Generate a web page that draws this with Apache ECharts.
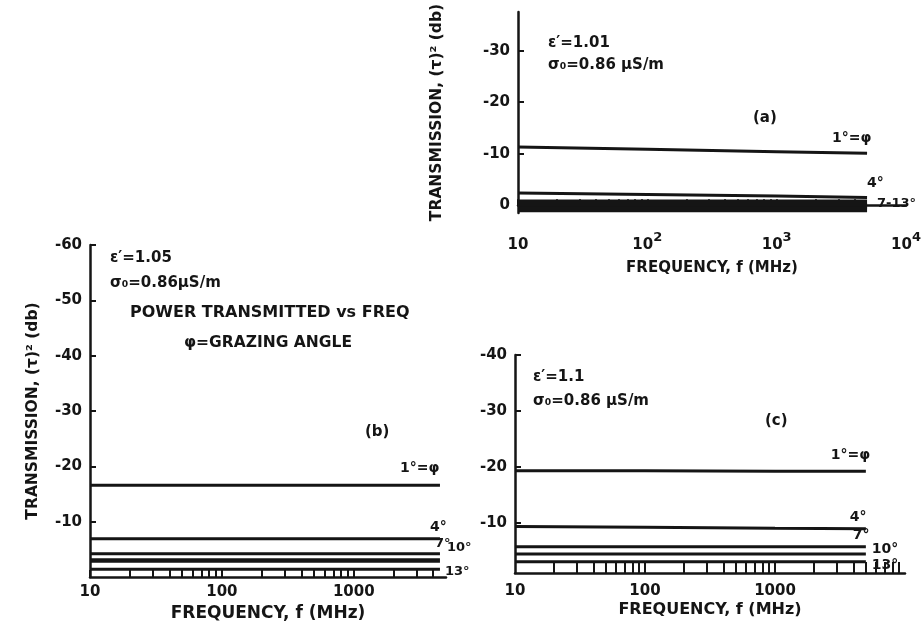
<!DOCTYPE html>
<html>
<head>
<meta charset="utf-8">
<script src="https://cdn.jsdelivr.net/npm/echarts@6/dist/echarts.min.js"></script>
<style>
  html, body { margin: 0; padding: 0; background: #ffffff; }
  #chart { width: 921px; height: 628px; }
</style>
</head>
<body>
<div id="chart"></div>
<script>
// ---- Data: transmission loss (dB) vs frequency (MHz) for several grazing angles ----

// Panel (a): eps' = 1.01
const freqA = [10, 100, 1000, 5000];
const transA1 = [-11.3, -10.85, -10.4, -10.1];
const transA4 = [-2.4, -2.1, -1.8, -1.5];
const transA7 = [-0.6, -0.6, -0.6, -0.6];
const transA10 = [0.1, 0.1, 0.1, 0.1];
const transA13 = [0.8, 0.8, 0.8, 0.8];

// Panel (b): eps' = 1.05
const freqB = [10, 100, 1000, 4500];
const transB1 = [-16.6, -16.6, -16.6, -16.6];
const transB4 = [-6.9, -6.9, -6.9, -6.9];
const transB7 = [-4.2, -4.2, -4.2, -4.2];
const transB10 = [-3.0, -3.0, -3.0, -3.0];
const transB13 = [-1.4, -1.4, -1.4, -1.4];

// Panel (c): eps' = 1.1
const freqC = [10, 100, 1000, 5000];
const transC1 = [-19.3, -19.3, -19.2, -19.2];
const transC4 = [-9.3, -9.2, -9.0, -8.9];
const transC7 = [-5.7, -5.7, -5.7, -5.7];
const transC10 = [-4.4, -4.4, -4.4, -4.4];
const transC13 = [-3.0, -3.0, -3.0, -3.0];

// Tick values
const yTicksA = [-30, -20, -10, 0];
const yTicksB = [-60, -50, -40, -30, -20, -10];
const yTicksC = [-40, -30, -20, -10];
const xLabelsA = [10, 100, 1000, 10000];
const xLabelsBC = [10, 100, 1000];
const xMinorB = [10, 20, 30, 40, 50, 60, 70, 80, 90, 100, 200, 300, 400, 500, 600, 700, 800, 900, 1000, 2000, 3000, 4000];
const xMinorC = [20, 30, 40, 50, 60, 70, 80, 90, 100, 200, 300, 400, 500, 600, 700, 800, 900, 1000, 2000, 3000, 4000, 5000, 6000, 7000, 8000, 9000];

const INK = '#151515';
const FONT = '"DejaVu Sans", "Liberation Sans", sans-serif';

const chart = echarts.init(document.getElementById('chart'), null, { renderer: 'canvas' });

const axisText = { color: INK, fontFamily: FONT, fontWeight: 'bold', fontSize: 15 };

function yAxisFor(gridIndex, min, max, ticks, nameGap) {
  return {
    type: 'value', gridIndex, inverse: true, min, max,
    axisLine: { show: true, lineStyle: { color: INK, width: 2.5 } },
    axisTick: { show: true, inside: true, length: 6, customValues: ticks, lineStyle: { color: INK, width: 2 } },
    axisLabel: Object.assign({ customValues: ticks, margin: 8 }, axisText),
    splitLine: { show: false },
    name: nameGap ? 'TRANSMISSION, (τ)² (db)' : '',
    nameLocation: 'middle', nameRotate: 90, nameGap: nameGap || 0,
    nameTextStyle: { color: INK, fontFamily: FONT, fontWeight: 'bold', fontSize: 15.5 }
  };
}

function xAxisFor(gridIndex, max, labels, minor, tickLen, margin, nameGap, nameSize, fmt) {
  return {
    type: 'log', logBase: 10, gridIndex, min: 10, max,
    axisLine: { show: true, lineStyle: { color: INK, width: 2.5 } },
    axisTick: { show: true, inside: true, length: tickLen, customValues: minor, lineStyle: { color: INK, width: 2 } },
    axisLabel: Object.assign({
      customValues: labels, margin, formatter: fmt,
      rich: {
        b: { fontFamily: FONT, fontWeight: 'bold', fontSize: 15, color: INK, lineHeight: 22, verticalAlign: 'bottom' },
        s: { fontFamily: FONT, fontWeight: 'bold', fontSize: 13, color: INK, lineHeight: 12, verticalAlign: 'top' }
      }
    }, axisText),
    splitLine: { show: false },
    name: 'FREQUENCY, f (MHz)', nameLocation: 'middle', nameGap,
    nameTextStyle: { color: INK, fontFamily: FONT, fontWeight: 'bold', fontSize: nameSize }
  };
}

// 10, 10², 10³ ... written with a raised exponent
const supFmt = v => {
  const e = Math.round(Math.log10(v));
  return e === 1 ? '{b|10}' : '{b|10}{s|' + e + '}';
};
const plainFmt = v => String(v);

function curve(idx, freqs, vals, width, label) {
  const last = freqs.length - 1;
  return {
    type: 'line', xAxisIndex: idx, yAxisIndex: idx,
    symbol: 'circle', symbolSize: 0, showSymbol: true,
    lineStyle: { color: INK, width },
    itemStyle: { color: INK },
    silent: true,
    data: freqs.map((f, i) => {
      if (i !== last || !label) return [f, vals[i]];
      return {
        value: [f, vals[i]],
        label: {
          show: true, position: 'right', distance: 0, offset: label.offset,
          formatter: label.text, color: INK, fontFamily: FONT, fontWeight: 'bold', fontSize: label.size || 14
        }
      };
    })
  };
}

function note(x, y, text, size) {
  return {
    type: 'text', x, y, silent: true,
    style: { text, fill: INK, font: 'bold ' + (size || 15) + 'px ' + FONT, align: 'left', verticalAlign: 'middle' }
  };
}

chart.setOption({
  animation: false,
  backgroundColor: '#ffffff',
  grid: [
    { left: 518, top: 12, width: 388, height: 201, outerBoundsMode: 'none', containLabel: false },
    { left: 90, top: 245, width: 356, height: 332, outerBoundsMode: 'none', containLabel: false },
    { left: 515, top: 355, width: 390, height: 218, outerBoundsMode: 'none', containLabel: false }
  ],
  xAxis: [
    xAxisFor(0, 10000, xLabelsA, xMinorB, 6, 18, 48, 15, supFmt),
    xAxisFor(1, 5000, xLabelsBC, xMinorB, 7, 8, 25, 17, plainFmt),
    xAxisFor(2, 10000, xLabelsBC, xMinorC, 11, 11, 29, 16, plainFmt)
  ],
  yAxis: [
    yAxisFor(0, -37.5, 1.5, yTicksA, 73),
    yAxisFor(1, -60, 0, yTicksB, 49),
    yAxisFor(2, -40, -1, yTicksC, 0)
  ],
  series: [
    curve(0, freqA, transA1, 3, { text: '1°=φ', offset: [-35, -15] }),
    curve(0, freqA, transA4, 3, { text: '4°', offset: [0, -14] }),
    curve(0, freqA, transA7, 5.5, null),
    curve(0, freqA, transA10, 5.5, { text: '7-13°', offset: [10, -2], size: 13 }),
    curve(0, freqA, transA13, 5.5, null),

    curve(1, freqB, transB1, 3, { text: '1°=φ', offset: [-40, -17] }),
    curve(1, freqB, transB4, 3, { text: '4°', offset: [-10, -11] }),
    curve(1, freqB, transB7, 3, { text: '7°', offset: [-5, -10], size: 13 }),
    curve(1, freqB, transB10, 4.5, { text: '10°', offset: [7, -13], size: 13 }),
    curve(1, freqB, transB13, 3, { text: '13°', offset: [5, 2], size: 13 }),

    curve(2, freqC, transC1, 3, { text: '1°=φ', offset: [-35, -16] }),
    curve(2, freqC, transC4, 3, { text: '4°', offset: [-16, -11] }),
    curve(2, freqC, transC7, 3, { text: '7°', offset: [-13, -11] }),
    curve(2, freqC, transC10, 3, { text: '10°', offset: [6, -5] }),
    curve(2, freqC, transC13, 3, { text: '13°', offset: [6, 4] })
  ],
  graphic: [
    note(548, 43, 'ε′=1.01'),
    note(548, 65, 'σ₀=0.86 μS/m'),
    note(753, 118, '(a)'),
    note(110, 258, 'ε′=1.05'),
    note(110, 283, 'σ₀=0.86μS/m'),
    note(130, 313, 'POWER TRANSMITTED vs FREQ', 16),
    note(184, 343, 'φ=GRAZING ANGLE', 15.5),
    note(365, 432, '(b)'),
    note(533, 377, 'ε′=1.1'),
    note(533, 401, 'σ₀=0.86 μS/m'),
    note(765, 421, '(c)')
  ]
});
</script>
</body>
</html>
